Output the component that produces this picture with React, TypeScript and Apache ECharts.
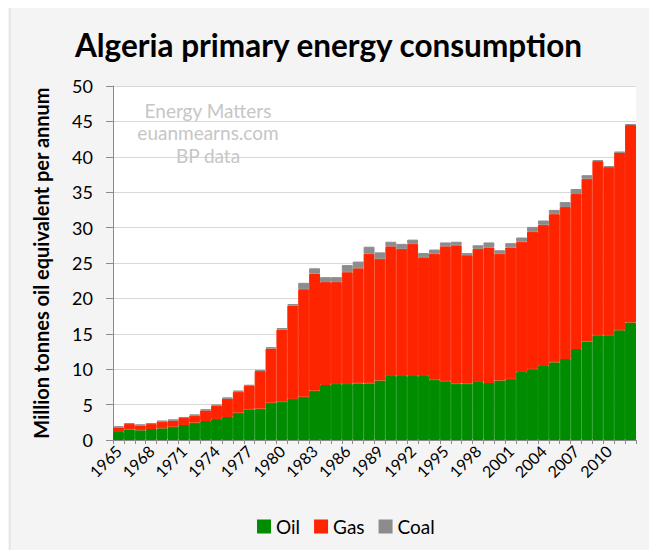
import React, { useEffect, useRef } from "react";
import * as echarts from "echarts";

const years: string[] = [];
for (let y = 1965; y <= 2012; y++) years.push(String(y));

const oil = [
  1.13, 1.5, 1.37, 1.55, 1.65, 1.88, 2.12, 2.45, 2.68, 2.97,
  3.25, 3.86, 4.33, 4.43, 5.27, 5.4, 5.8, 6.1, 6.97, 7.77,
  7.9, 7.9, 8.0, 8.0, 8.4, 9.04, 9.04, 9.04, 9.04, 8.5,
  8.3, 7.96, 7.96, 8.2, 8.05, 8.4, 8.6, 9.6, 10.0, 10.45,
  10.97, 11.44, 12.85, 13.9, 14.8, 14.8, 15.5, 16.6,
];
const gas = [
  0.65, 0.75, 0.68, 0.7, 0.93, 0.87, 0.98, 1.0, 1.5, 1.88,
  2.6, 2.96, 3.3, 5.3, 7.65, 10.2, 13.2, 15.2, 16.53, 14.53,
  14.4, 15.8, 16.25, 18.3, 17.2, 18.31, 17.96, 18.66, 16.76, 17.8,
  19.05, 19.54, 18.14, 18.8, 19.15, 17.9, 18.6, 18.4, 19.4, 19.95,
  20.93, 21.46, 21.9, 23.0, 24.6, 23.75, 25.1, 27.9,
];
const coal = [
  0.15, 0.15, 0.15, 0.15, 0.15, 0.15, 0.15, 0.15, 0.15, 0.15,
  0.15, 0.15, 0.17, 0.17, 0.18, 0.2, 0.2, 0.9, 0.75, 0.7,
  0.7, 1.0, 0.95, 1.0, 0.9, 0.65, 0.7, 0.6, 0.6, 0.6,
  0.55, 0.5, 0.3, 0.5, 0.7, 0.5, 0.6, 0.6, 0.7, 0.6,
  0.6, 0.7, 0.7, 0.5, 0.1, 0.1, 0.1, 0.1,
];

const yTicks = [0, 5, 10, 15, 20, 25, 30, 35, 40, 45, 50];
const watermark = ["Energy Matters", "euanmearns.com", "BP data"];

const FONT = "Lato";

export default function App() {
  const ref = useRef<HTMLDivElement>(null);
  useEffect(() => {
    if (!ref.current) return;
    const chart = echarts.init(ref.current, undefined, { renderer: "svg" });
    const bar = (name: string, data: number[], color: string) => ({
      name,
      type: "bar",
      stack: "t",
      data,
      barCategoryGap: 0,
      itemStyle: { color, borderColor: color, borderWidth: 1 },
    });
    chart.setOption({
      animation: false,
      backgroundColor: "#f4f4f4",
      textStyle: { fontFamily: FONT },
      title: {
        text: "Algeria primary energy consumption",
        left: "center",
        top: 24,
        textStyle: { fontFamily: FONT, fontSize: 31.5, fontWeight: "bold", color: "#000" },
      },
      graphic: [
        {
          type: "rect",
          shape: { x: 10, y: 3, width: 700, height: 600 },
          style: { fill: "none", stroke: "#dcdcdc", lineWidth: 1 },
          z: -20,
          silent: true,
        },
        {
          type: "rect",
          shape: { x: 113, y: 86, width: 523, height: 354 },
          style: { fill: "#ffffff" },
          z: -10,
          silent: true,
        },
        ...watermark.map((t, i) => ({
          type: "text",
          x: 208,
          y: 110 + i * 22.5,
          z: 100,
          style: {
            text: t,
            fontFamily: FONT,
            fontSize: 19,
            fill: "#c6c6c6",
            textAlign: "center",
            textVerticalAlign: "middle",
          },
        })),
      ],
      grid: { left: 113, right: 21, top: 86, bottom: 118, containLabel: false },
      legend: {
        top: 512,
        left: 252,
        icon: "rect",
        itemWidth: 12,
        itemHeight: 12,
        itemGap: 14,
        textStyle: { fontFamily: FONT, fontSize: 19, color: "#000", padding: [0, 0, 0, 1] },
        data: ["Oil", "Gas", "Coal"],
      },
      xAxis: {
        type: "category",
        data: years,
        axisLine: { lineStyle: { color: "#8c8c8c", width: 1 } },
        axisTick: { show: true, interval: 0, length: 4, lineStyle: { color: "#8c8c8c" } },
        axisLabel: {
          interval: 2,
          rotate: 45,
          fontFamily: FONT,
          fontSize: 16,
          color: "#000",
          margin: 8,
        },
      },
      yAxis: {
        type: "value",
        min: 0,
        max: 50,
        interval: 5,
        name: "Million tonnes oil equivalent per annum",
        nameLocation: "middle",
        nameGap: 62,
        nameTextStyle: { fontFamily: FONT, fontSize: 20, fontWeight: "bold", color: "#000" },
        axisLine: { show: true, lineStyle: { color: "#8c8c8c" } },
        axisTick: { show: true, length: 7, lineStyle: { color: "#8c8c8c" } },
        splitLine: { lineStyle: { color: "#d9d9d9" } },
        axisLabel: {
          fontFamily: FONT,
          fontSize: 18,
          color: "#000",
          margin: 20,
          formatter: (v: number) => (yTicks.includes(v) ? String(v) : ""),
        },
      },
      series: [
        bar("Oil", oil, "#008c00"),
        bar("Gas", gas, "#ff2400"),
        bar("Coal", coal, "#8c8c8c"),
      ],
    });
    return () => chart.dispose();
  }, []);
  return <div ref={ref} style={{ width: 657, height: 558, margin: -8 }} />;
}
